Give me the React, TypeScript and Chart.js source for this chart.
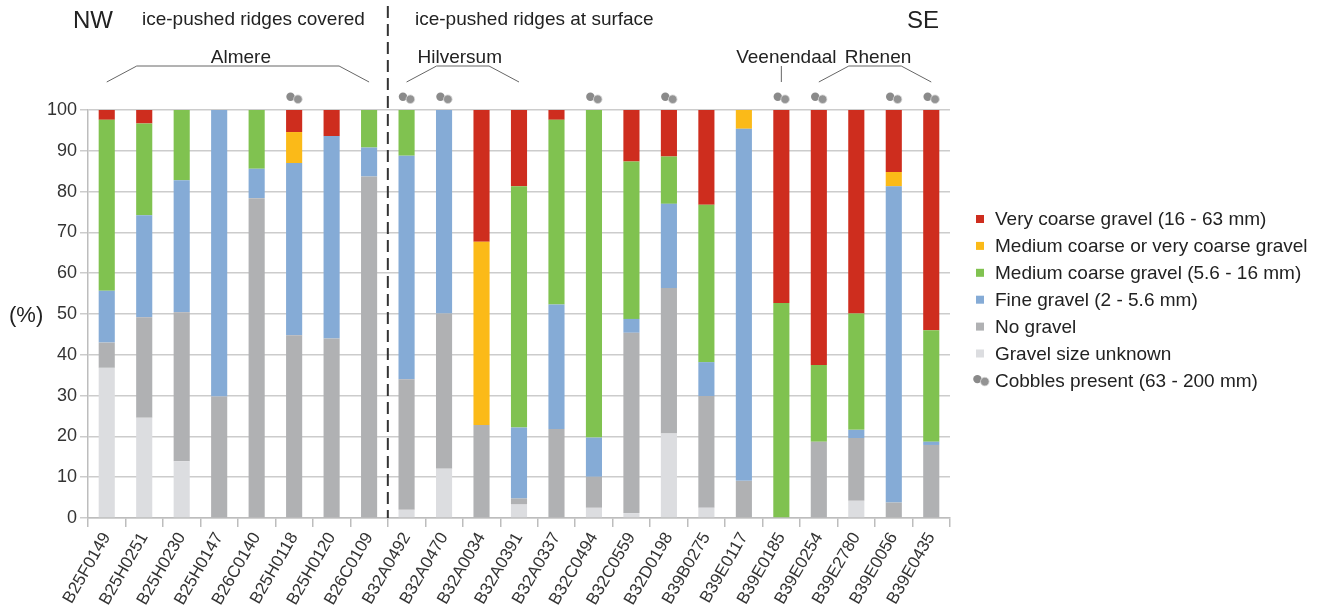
import React, { useEffect, useRef } from "react";
import { Chart, registerables } from "chart.js";

Chart.register(...registerables);

const samples = [
  "B25F0149", "B25H0251", "B25H0230", "B25H0147", "B26C0140", "B25H0118", "B25H0120", "B26C0109",
  "B32A0492", "B32A0470", "B32A0034", "B32A0391", "B32A0337", "B32C0494", "B32C0559", "B32D0198",
  "B39B0275", "B39E0117", "B39E0185", "B39E0254", "B39E2780", "B39E0056", "B39E0435",
];

const gravelUnknown = [36.8, 24.6, 13.9, 0, 0, 0, 0, 0, 2.0, 12.1, 0, 3.3, 0, 2.5, 1.2, 20.7, 2.5, 0, 0, 0, 4.2, 0, 0];
const noGravel = [6.2, 24.6, 36.5, 29.8, 78.4, 44.8, 44.0, 83.7, 32.0, 38.0, 22.8, 1.5, 21.8, 7.6, 44.2, 35.7, 27.4, 9.1, 0, 18.7, 15.4, 3.8, 17.9];
const fineGravel = [12.7, 25.0, 32.4, 70.2, 7.2, 42.2, 49.6, 7.1, 54.8, 49.9, 0, 17.4, 30.5, 9.6, 3.4, 20.6, 8.3, 86.3, 0, 0, 2.0, 77.5, 0.8];
const mediumCoarse = [41.9, 22.5, 17.2, 0, 14.4, 0, 0, 9.2, 11.2, 0, 0, 59.1, 45.3, 80.3, 38.6, 11.6, 38.6, 0, 52.7, 18.8, 28.5, 0, 27.3];
const mediumOrVeryCoarse = [0, 0, 0, 0, 0, 7.6, 0, 0, 0, 0, 44.9, 0, 0, 0, 0, 0, 0, 4.6, 0, 0, 0, 3.5, 0];
const veryCoarse = [2.4, 3.3, 0, 0, 0, 5.4, 6.4, 0, 0, 0, 32.3, 18.7, 2.4, 0, 12.6, 11.4, 23.2, 0, 47.3, 62.5, 49.9, 15.2, 54.0];
const cobblesPresent = [false, false, false, false, false, true, false, false, true, true, false, false, false, true, false, true, false, false, true, true, false, true, true];

const yTicks = [0, 10, 20, 30, 40, 50, 60, 70, 80, 90, 100];

const legendLabels = [
  "Very coarse gravel (16 - 63 mm)",
  "Medium coarse or very coarse gravel",
  "Medium coarse gravel (5.6 - 16 mm)",
  "Fine gravel (2 - 5.6 mm)",
  "No gravel",
  "Gravel size unknown",
  "Cobbles present (63 - 200 mm)",
];

const COLORS = {
  unknown: "#dcdde0",
  none: "#b0b1b3",
  fine: "#85abd6",
  medium: "#80c250",
  mixed: "#fbba18",
  veryCoarse: "#ce2d1e",
};

const FONT = "'Liberation Sans', Arial, Helvetica, sans-serif";

function drawCobbles(ctx: CanvasRenderingContext2D, cx: number, cy: number) {
  ctx.save();
  ctx.fillStyle = "#8a8a8a";
  ctx.beginPath();
  ctx.arc(cx - 3.6, cy - 1.3, 4.2, 0, Math.PI * 2);
  ctx.fill();
  ctx.beginPath();
  ctx.arc(cx + 3.8, cy + 1.2, 4.3, 0, Math.PI * 2);
  ctx.fillStyle = "#939393";
  ctx.fill();
  ctx.strokeStyle = "#d8d8d8";
  ctx.lineWidth = 0.8;
  ctx.stroke();
  ctx.restore();
}

const annotationPlugin = {
  id: "annotations",
  afterDraw(chart: any) {
    const ctx: CanvasRenderingContext2D = chart.ctx;
    const xs = chart.scales.x;
    const area = chart.chartArea;
    const px = (i: number) => xs.getPixelForValue(i);

    ctx.save();
    // dashed separator
    const sepX = (px(7) + px(8)) / 2;
    ctx.strokeStyle = "#333";
    ctx.lineWidth = 2;
    ctx.setLineDash([12, 6]);
    ctx.beginPath();
    ctx.moveTo(sepX, 6);
    ctx.lineTo(sepX, area.bottom);
    ctx.stroke();
    ctx.setLineDash([]);

    // top texts
    ctx.fillStyle = "#222";
    ctx.textBaseline = "middle";
    ctx.font = `24px ${FONT}`;
    ctx.textAlign = "left";
    ctx.fillText("NW", 73, 21);
    ctx.textAlign = "right";
    ctx.fillText("SE", 939, 21);
    ctx.font = `19px ${FONT}`;
    ctx.textAlign = "left";
    ctx.fillText("ice-pushed ridges covered", 142, 20);
    ctx.fillText("ice-pushed ridges at surface", 415, 20);

    // region brackets
    const top = 66;
    const bottom = 82;
    const inset = 30;
    ctx.strokeStyle = "#666";
    ctx.lineWidth = 1;
    const bracket = (a: number, b: number, label: string, dx = 0) => {
      const x1 = px(a);
      const x2 = px(b);
      ctx.beginPath();
      ctx.moveTo(x1, bottom);
      ctx.lineTo(x1 + inset, top);
      ctx.lineTo(x2 - inset, top);
      ctx.lineTo(x2, bottom);
      ctx.stroke();
      ctx.textAlign = "center";
      ctx.fillText(label, (x1 + x2) / 2 + dx, 58);
    };
    bracket(0, 7, "Almere", 3);
    bracket(8, 11, "Hilversum", -3);
    bracket(19, 22, "Rhenen", 3);
    const vx = px(18);
    ctx.beginPath();
    ctx.moveTo(vx, top);
    ctx.lineTo(vx, bottom);
    ctx.stroke();
    ctx.textAlign = "center";
    ctx.fillText("Veenendaal", vx + 5, 58);

    // cobbles
    cobblesPresent.forEach((c, i) => {
      if (c) drawCobbles(ctx, px(i), area.top - 12);
    });

    // (%) label
    ctx.font = `22px ${FONT}`;
    ctx.textAlign = "left";
    ctx.fillStyle = "#222";
    ctx.fillText("(%)", 9, 316);

    // legend
    const legendColors = [COLORS.veryCoarse, COLORS.mixed, COLORS.medium, COLORS.fine, COLORS.none, COLORS.unknown];
    ctx.font = `19px ${FONT}`;
    legendLabels.forEach((label, i) => {
      const y = 219 + i * 26.9;
      if (i < legendColors.length) {
        ctx.fillStyle = legendColors[i];
        ctx.fillRect(976, y - 4, 8, 8);
      } else {
        drawCobbles(ctx, 981, y);
      }
      ctx.fillStyle = "#222";
      ctx.textAlign = "left";
      ctx.fillText(label, 995, y + 1);
    });
    ctx.restore();
  },
};

export default function App() {
  const canvasRef = useRef<HTMLCanvasElement | null>(null);

  useEffect(() => {
    if (!canvasRef.current) return;
    const mk = (label: string, data: number[], color: string) => ({
      label,
      data,
      backgroundColor: color,
      borderWidth: 0,
      categoryPercentage: 1,
      barPercentage: 0.43,
    });
    const chart = new Chart(canvasRef.current, {
      type: "bar",
      data: {
        labels: samples,
        datasets: [
          mk("Gravel size unknown", gravelUnknown, COLORS.unknown),
          mk("No gravel", noGravel, COLORS.none),
          mk("Fine gravel (2 - 5.6 mm)", fineGravel, COLORS.fine),
          mk("Medium coarse gravel (5.6 - 16 mm)", mediumCoarse, COLORS.medium),
          mk("Medium coarse or very coarse gravel", mediumOrVeryCoarse, COLORS.mixed),
          mk("Very coarse gravel (16 - 63 mm)", veryCoarse, COLORS.veryCoarse),
        ],
      },
      options: {
        animation: false,
        responsive: true,
        maintainAspectRatio: false,
        layout: { padding: { top: 110, right: 371, left: 0, bottom: 0 } },
        plugins: {
          legend: { display: false },
          tooltip: { enabled: false },
          title: { display: false },
        },
        scales: {
          x: {
            stacked: true,
            afterFit: (s: any) => {
              s.height = 97;
            },
            grid: {
              offset: true,
              drawOnChartArea: false,
              drawTicks: true,
              tickLength: 9,
              color: "#bdbdbd",
              lineWidth: 1.5,
            },
            border: { display: true, color: "#bdbdbd", width: 1.5 },
            ticks: {
              autoSkip: false,
              minRotation: 60,
              maxRotation: 60,
              padding: 2,
              color: "#333",
              font: { family: FONT, size: 17 },
            },
          },
          y: {
            stacked: true,
            min: 0,
            max: 100,
            afterFit: (s: any) => {
              s.width = 88;
            },
            afterBuildTicks: (s: any) => {
              s.ticks = yTicks.map((v) => ({ value: v }));
            },
            grid: {
              color: "#cccccc",
              lineWidth: 1.5,
              tickLength: 8,
              drawTicks: true,
            },
            border: { display: true, color: "#bdbdbd", width: 1.5 },
            ticks: {
              padding: 3,
              color: "#333",
              font: { family: FONT, size: 18 },
            },
          },
        },
      },
      plugins: [annotationPlugin],
    });
    return () => chart.destroy();
  }, []);

  return (
    <div style={{ position: "absolute", left: 0, top: 0, width: 1321, height: 615, background: "#fff" }}>
      <canvas ref={canvasRef} />
    </div>
  );
}
